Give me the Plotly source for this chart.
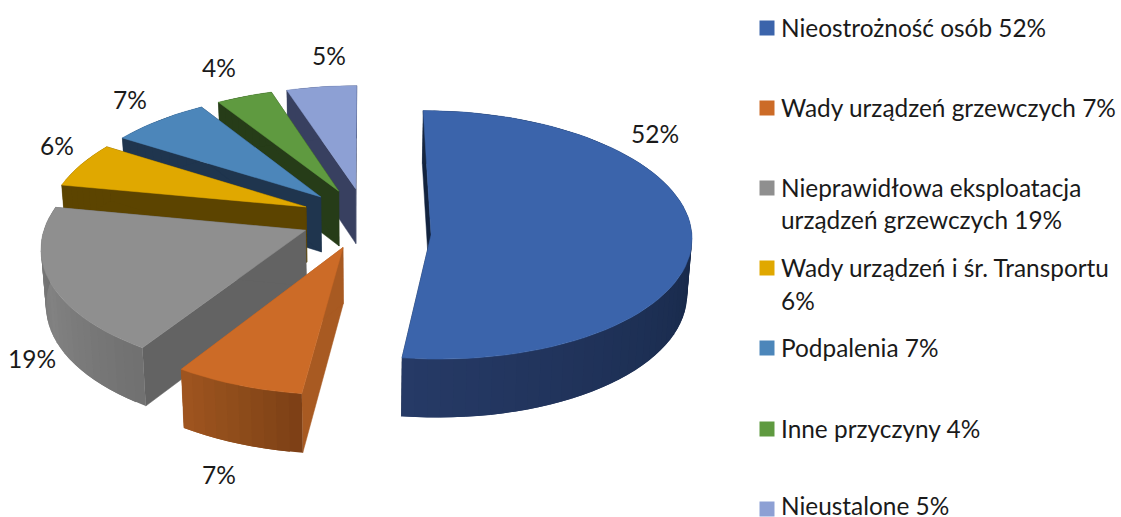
import math
import plotly.graph_objects as go

# ---- data ----
categories = ["Nieostrożność osób", "Wady urządzeń grzewczych",
              "Nieprawidłowa eksploatacja urządzeń grzewczych",
              "Wady urządzeń i śr. Transportu", "Podpalenia",
              "Inne przyczyny", "Nieustalone"]
values = [52, 7, 19, 6, 7, 4, 5]
value_labels = ["52%", "7%", "19%", "6%", "7%", "4%", "5%"]
legend_lines = [["Nieostrożność osób 52%"], ["Wady urządzeń grzewczych 7%"],
                ["Nieprawidłowa eksploatacja", "urządzeń grzewczych 19%"],
                ["Wady urządzeń i śr. Transportu", "6%"], ["Podpalenia 7%"],
                ["Inne przyczyny 4%"], ["Nieustalone 5%"]]

# ---- styles ----
top_colors = ["#3B64AB", "#CC6B27", "#8F8F8F", "#E0A800", "#4C86BA", "#5F9A40", "#8DA0D4"]
wall_colors = ["#12233F", "#A85A22", "#636363", "#5C4400", "#1F354E", "#263C18", "#384060"]
arc_stops = [["#162640", "#172848", "#263A66"], ["#7C3F15", "#8E4C1B", "#A0551F"],
             ["#707070", "#828282", "#6B6B6B"], ["#5C4400"] * 3, ["#1F354E"] * 3,
             ["#263C18"] * 3, ["#384060"] * 3]
label_pos = [(655, 133), (219, 474), (32, 358), (57, 145), (130, 99), (219, 67), (329, 55)]
legend_y = [[27], [107], [187, 219], [267, 300], [347], [428], [505]]
marker_y = [28, 108, 188, 268, 348, 429, 509]
FONT = "Lato"
LABEL_SIZE = 24.5
LEGEND_SIZE = 24.4
CX, CY, A, B, K, EXPLODE, DEPTH = 365.5, 218, 258.5, 122, 0.12, 0.25, 55.5
apex_nudge = [-0.12, 0, 0, 0, 0, 0, 0]


def project(X, Y):
    s = 1 / (1 + K * Y)
    return CX + A * X * s, CY - B * Y * s, s


def lower(p):
    x, y, s = p
    return CX + (x - CX) * 0.985, y + DEPTH * s ** 0.4


def mix(c1, c2, t):
    a = [int(c1[i:i + 2], 16) for i in (1, 3, 5)]
    b = [int(c2[i:i + 2], 16) for i in (1, 3, 5)]
    return "#%02x%02x%02x" % tuple(round(u + (v - u) * t) for u, v in zip(a, b))


def grad(stops, t):
    if t < 0.5:
        return mix(stops[0], stops[1], t * 2)
    return mix(stops[1], stops[2], (t - 0.5) * 2)


fig = go.Figure()


def poly(pts, color, edge=0.0):
    fig.add_trace(go.Scatter(x=[p[0] for p in pts] + [pts[0][0]],
                             y=[p[1] for p in pts] + [pts[0][1]],
                             mode="lines", fill="toself", fillcolor=color,
                             line=dict(color=color, width=edge),
                             hoverinfo="skip", showlegend=False))


total = sum(values)
angles = [0]
for v in values:
    angles.append(angles[-1] + v / total * 2 * math.pi)

for i in [6, 5, 4, 3, 2, 1, 0]:
    a0, a1 = angles[i], angles[i + 1]
    m = (a0 + a1) / 2
    ex, ey = EXPLODE * math.sin(m), EXPLODE * math.cos(m)
    n = max(8, int((a1 - a0) / math.radians(2.5)))
    thetas = [a0 + (a1 - a0) * k / n for k in range(n + 1)]
    rim = [project(ex + math.sin(t), ey + math.cos(t)) for t in thetas]
    apex = project(ex, ey + apex_nudge[i])
    top2 = lambda p: (p[0], p[1])
    # radial walls
    poly([top2(apex), top2(rim[0]), lower(rim[0]), lower(apex)], wall_colors[i], 0.5)
    poly([top2(apex), top2(rim[-1]), lower(rim[-1]), lower(apex)], wall_colors[i], 0.5)
    # outer wall: each strip runs under the next so that no seam shows
    for k in range(n):
        e = min(k + 2, n)
        run = rim[k:e + 1]
        poly([top2(p) for p in run] + [lower(p) for p in reversed(run)],
             grad(arc_stops[i], (k + 0.5) / n))
    # top face
    poly([top2(apex)] + [top2(p) for p in rim], top_colors[i], 0.5)

annotations = []
for txt, (x, y) in zip(value_labels, label_pos):
    annotations.append(dict(x=x, y=y, text=txt, showarrow=False, xref="x", yref="y",
                            xanchor="center", yanchor="middle",
                            font=dict(family=FONT, size=LABEL_SIZE, color="#1a1a1a")))
for lines, ys, my, color in zip(legend_lines, legend_y, marker_y, top_colors):
    fig.add_trace(go.Scatter(x=[767], y=[my], mode="markers",
                             marker=dict(symbol="square", size=15, color=color),
                             hoverinfo="skip", showlegend=False))
    for line, y in zip(lines, ys):
        annotations.append(dict(x=779, y=y, text=line, showarrow=False, xref="x", yref="y",
                                xanchor="left", yanchor="middle",
                                font=dict(family=FONT, size=LEGEND_SIZE, color="#1a1a1a")))

fig.update_layout(width=1121, height=517, margin=dict(l=0, r=0, t=0, b=0),
                  paper_bgcolor="white", plot_bgcolor="white", annotations=annotations,
                  xaxis=dict(range=[0, 1121], visible=False, fixedrange=True),
                  yaxis=dict(range=[517, 0], visible=False, fixedrange=True))
fig.write_html("out.html", config=dict(displayModeBar=False),
               post_script="document.body.style.margin='0';document.body.style.overflow='hidden';")
